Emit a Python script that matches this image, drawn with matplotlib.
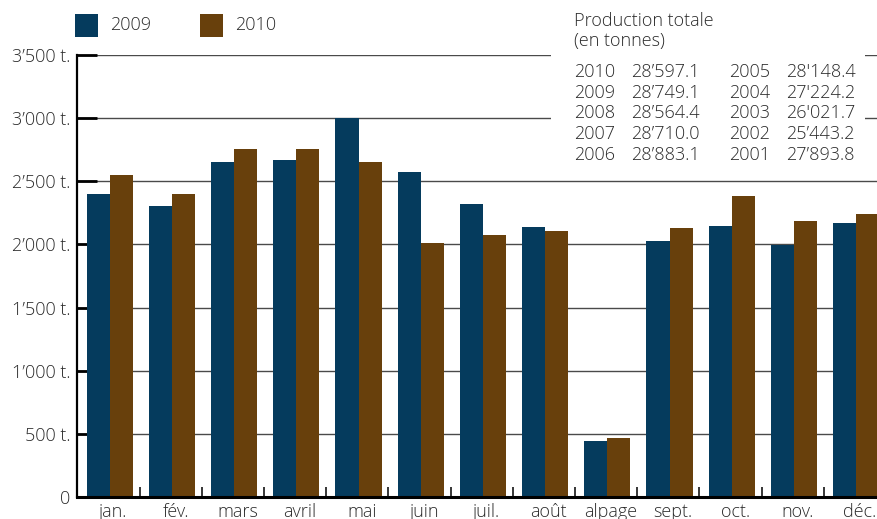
import numpy as np
import matplotlib
matplotlib.use('Agg')
import matplotlib.pyplot as plt
from matplotlib.patches import Rectangle

mois = ['jan.', 'fév.', 'mars', 'avril', 'mai', 'juin', 'juil.', 'août',
        'alpage', 'sept.', 'oct.', 'nov.', 'déc.']
prod_2009 = [2400, 2305, 2650, 2665, 3005, 2570, 2320, 2135, 445, 2030, 2145, 1995, 2170]
prod_2010 = [2550, 2400, 2755, 2755, 2650, 2010, 2075, 2105, 467, 2130, 2380, 2185, 2240]
series_labels = ['2009', '2010']
series_colors = ['#053b5d', '#68400c']

y_ticks = [0, 500, 1000, 1500, 2000, 2500, 3000, 3500]
y_ticklabels = ['0', '500 t.', '1’000 t.', '1’500 t.', '2’000 t.', '2’500 t.', '3’000 t.', '3’500 t.']

# production totale (en tonnes)
tot_annees_g = ['2010', '2009', '2008', '2007', '2006']
tot_valeurs_g = ['28’597.1', '28’749.1', '28’564.4', '28’710.0', '28’883.1']
tot_annees_d = ['2005', '2004', '2003', '2002', '2001']
tot_valeurs_d = ["28'148.4", "27'224.2", "26'021.7", '25’443.2', '27’893.8']

W, H = 877, 519
plt.rcParams['font.family'] = ['Open Sans', 'DejaVu Sans']
plt.rcParams['font.weight'] = 'light'
txt_color = '#2b2b2b'


def fx(x):
    return x / W


def fy(y):
    return 1 - y / H


fig = plt.figure(figsize=(W / 100, H / 100), dpi=100)
ax = fig.add_axes([fx(77), fy(497), 1 - fx(77), fy(55) - fy(497)])

x = np.arange(len(mois))
bw = 0.37
ax.bar(x - bw / 2, prod_2009, bw, color=series_colors[0], zorder=2)
ax.bar(x + bw / 2, prod_2010, bw, color=series_colors[1], zorder=2)

ax.set_xlim(-0.526, 12.336)
ax.set_ylim(0, 3500)
ax.set_axisbelow(True)
ax.yaxis.grid(True, color='#4a4a4a', lw=1.0)

# fond blanc derrière le tableau
ax.add_patch(Rectangle((fx(551), fy(172)), fx(865) - fx(551), fy(45) - fy(172),
                       transform=fig.transFigure, facecolor='white',
                       edgecolor='none', zorder=1.5, clip_on=False))

ax.set_yticks(y_ticks)
ax.set_yticklabels(y_ticklabels)
ax.tick_params(axis='y', direction='in', length=14.5, width=2.0, color='black',
               pad=5, labelsize=13, labelcolor=txt_color)

ax.set_xticks(x + 0.06)
ax.set_xticklabels(mois)
ax.tick_params(axis='x', which='major', length=0, pad=4.5, labelsize=13,
               labelcolor=txt_color)
ax.set_xticks(x[:-1] + 0.48, minor=True)
ax.tick_params(axis='x', which='minor', direction='in', length=7.5, width=1.1,
               color='black')

for s in ['top', 'right']:
    ax.spines[s].set_visible(False)
ax.spines['left'].set_linewidth(1.6)
ax.spines['bottom'].set_linewidth(2.2)

# légende
for i, (lab, col) in enumerate(zip(series_labels, series_colors)):
    x0 = 75 + 125 * i
    fig.patches.append(Rectangle((fx(x0), fy(37)), fx(23), 23 / H,
                                 transform=fig.transFigure, facecolor=col,
                                 edgecolor='none'))
    fig.text(fx(x0 + 35), fy(25), lab, fontsize=13, color=txt_color, va='center')

# tableau
fig.text(fx(574), fy(21), 'Production totale', fontsize=13, color=txt_color, va='center')
fig.text(fx(574), fy(41), '(en tonnes)', fontsize=13, color=txt_color, va='center')
for k in range(len(tot_annees_g)):
    yy = fy(71.7 + 20.8 * k)
    fig.text(fx(574), yy, tot_annees_g[k], fontsize=13, color=txt_color, va='center')
    fig.text(fx(631), yy, tot_valeurs_g[k], fontsize=13, color=txt_color, va='center')
    fig.text(fx(729), yy, tot_annees_d[k], fontsize=13, color=txt_color, va='center')
    fig.text(fx(786), yy, tot_valeurs_d[k], fontsize=13, color=txt_color, va='center')

fig.savefig('out.png', dpi=100)
